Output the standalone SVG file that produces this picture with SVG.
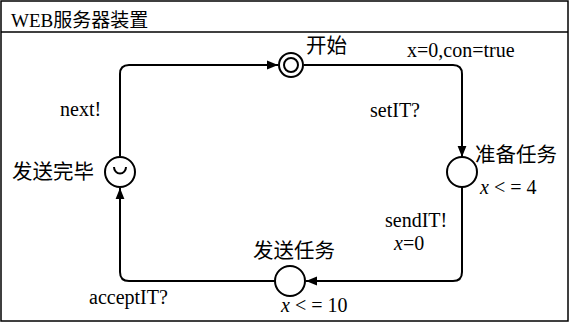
<svg xmlns="http://www.w3.org/2000/svg" width="569" height="322" viewBox="0 0 569 322">
<defs>
<style>
.t{font-family:"Liberation Serif","Noto Sans CJK SC",serif;font-size:20px;fill:#000}
.c{font-family:"Liberation Serif","Noto Sans CJK SC",serif;font-size:20.5px;fill:#000}
.h{font-family:"Liberation Serif","Noto Sans CJK SC",serif;font-size:19px;fill:#000}
.i{font-style:italic}
.e{fill:none;stroke:#000;stroke-width:2}
.n{fill:#fff;stroke:#000;stroke-width:2}
</style>
<marker id="ah" viewBox="0 0 10 10" refX="10" refY="5" markerWidth="11" markerHeight="11" markerUnits="userSpaceOnUse" orient="auto">
<path d="M0,1 L10,5 L0,9 Z" fill="#000"/>
</marker>
</defs>
<rect x="1" y="1" width="567" height="320" fill="#fff" stroke="#000" stroke-width="1.5"/>
<line x1="1" y1="32" x2="568" y2="32" stroke="#000" stroke-width="1.5"/>
<text class="h" x="11" y="27">WEB服务器装置</text>
<g id="connectors">
<path class="e" d="M304,65 H453 Q462,65 462,74 V157" marker-end="url(#ah)"/>
<path class="e" d="M462,187 V272 Q462,281 453,281 H306" marker-end="url(#ah)"/>
<path class="e" d="M275,281 H129 Q120,281 120,272 V188" marker-end="url(#ah)"/>
<path class="e" d="M120,156 V74 Q120,65 129,65 H278" marker-end="url(#ah)"/>
</g>
<g id="start">
<circle class="n" cx="291" cy="65" r="12"/>
<circle class="n" cx="291" cy="65" r="7"/>
<text class="c" x="306" y="53">开始</text>
</g>
<g id="prepare">
<circle class="n" cx="462" cy="172" r="15"/>
<text class="c" x="475" y="162">准备任务</text>
<text class="t" x="480" y="194"><tspan class="i">x</tspan> &lt; = 4</text>
</g>
<g id="send">
<circle class="n" cx="290" cy="281" r="15"/>
<text class="c" x="253" y="258">发送任务</text>
<text class="t" x="281" y="312"><tspan class="i">x</tspan> &lt; = 10</text>
</g>
<g id="done">
<circle class="n" cx="120" cy="172" r="15"/>
<path d="M114,167 A6,6.5 0 0 0 126,167" fill="none" stroke="#000" stroke-width="2"/>
<text class="c" x="12" y="179">发送完毕</text>
</g>
<g id="labels">
<text class="t" x="407" y="57">x=0,con=true</text>
<text class="t" x="370" y="117">setIT?</text>
<text class="t" x="385" y="227">sendIT!</text>
<text class="t" x="394" y="250"><tspan class="i">x</tspan>=0</text>
<text class="t" x="89" y="304">acceptIT?</text>
<text class="t" x="60" y="116">next!</text>
</g>
</svg>
